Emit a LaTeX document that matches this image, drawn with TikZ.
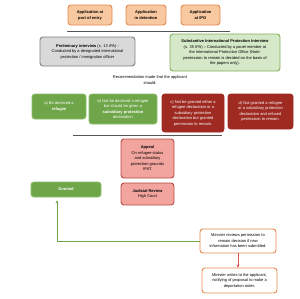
\documentclass[tikz,border=0pt]{standalone}
\usepackage{fontspec}
\setmainfont{Liberation Sans}
\usetikzlibrary{arrows.meta}
\definecolor{orfill}{HTML}{F8C8A0}
\definecolor{ordraw}{HTML}{E58A4E}
\definecolor{grfill}{HTML}{D9D9D9}
\definecolor{grdraw}{HTML}{7F7F7F}
\definecolor{lgfill}{HTML}{D5E8C8}
\definecolor{lgdraw}{HTML}{7FB05A}
\definecolor{dgfill}{HTML}{6FA64A}
\definecolor{dgdraw}{HTML}{8CBF68}
\definecolor{drfill}{HTML}{9E2A22}
\definecolor{pkfill}{HTML}{F2A59E}
\definecolor{pkdraw}{HTML}{B84A44}
\definecolor{redarr}{HTML}{E0524E}
\definecolor{linecol}{HTML}{555555}
\tikzset{
  box/.style={rounded corners=3pt, line width=0.9pt, align=center, inner sep=1pt,
    font=\fontsize{4}{5.5}\selectfont},
  appbox/.style={box, fill=orfill, draw=ordraw, font=\bfseries\fontsize{4}{6}\selectfont},
  greybox/.style={box, fill=grfill, draw=grdraw},
  lgbox/.style={box, fill=lgfill, draw=lgdraw},
  dgbox/.style={box, fill=dgfill, draw=dgdraw, text=white},
  drbox/.style={box, fill=drfill, draw=drfill, text=white},
  pkbox/.style={box, fill=pkfill, draw=pkdraw},
  minbox/.style={box, fill=white, draw=ordraw},
  sepline/.style={draw=linecol, line width=0.6pt}
}
\begin{document}
\begin{tikzpicture}[x=1pt, y=-1pt]
\useasboundingbox (0,0) rectangle (300,298);
\node[appbox, minimum width=44pt, minimum height=20pt] (app1) at (90,15) {Application at\\port of entry};
\node[appbox, minimum width=40pt, minimum height=20pt] (app2) at (146,15) {Application\\in detention};
\node[appbox, minimum width=39pt, minimum height=20pt] (app3) at (200.5,15) {Application\\at IPO};
\coordinate (l1a) at (67,31);
\coordinate (l1b) at (230,31);
\draw[sepline] (l1a) -- (l1b);
\node[greybox, minimum width=95pt, minimum height=29pt] (prelim) at (87.5,51.5)
  {\textbf{Preliminary interview} (s. 13 IPA) -\\Conducted by a designated international\\protection / immigration officer};
\node[lgbox, minimum width=110pt, minimum height=37pt] (subst) at (225,52.5)
  {\textbf{Substantive International Protection Interview}\\(s. 35 IPA) -- Conducted by a panel member at\\the International Protection Office (Note:\\permission to remain is decided on the basis of\\the papers only).};
\node[align=center, inner sep=0pt, font=\fontsize{4}{5.2}\selectfont] (rec) at (150,80)
  {Recommendation made that the applicant\\should:};
\node[dgbox, minimum width=54pt, minimum height=25pt] (a) at (59,106.5) {a) Be declared a\\\textbf{refugee}};
\node[dgbox, minimum width=68pt, minimum height=30pt] (b) at (123,109)
  {b) Not be declared a refugee\\but should be given a\\\textbf{subsidiary protection}\\declaration};
\node[drbox, minimum width=62pt, minimum height=38pt] (c) at (193,113)
  {c) Not be granted either a\\refugee declaration or a\\subsidiary protection\\declaration but granted\\permission to remain.};
\node[drbox, minimum width=65pt, minimum height=35pt] (d) at (260.5,111.5)
  {d) Not granted a refugee\\or a subsidiary protection\\declaration and refused\\permission to remain.};
\coordinate (l2a) at (73,135);
\coordinate (l2b) at (222,135);
\draw[sepline] (l2a) -- (l2b);
\node[pkbox, minimum width=53pt, minimum height=39pt] (appeal) at (147.5,158.5)
  {\textbf{Appeal}\\On refugee status\\and subsidiary\\protection grounds\\IPAT};
\node[dgbox, minimum width=70pt, minimum height=15pt, font=\bfseries\fontsize{4}{5.5}\selectfont] (granted) at (66,189.5) {Granted};
\node[pkbox, minimum width=53pt, minimum height=22pt] (jr) at (147.5,194) {\textbf{Judicial Review}\\High Court};
\node[minbox, minimum width=76pt, minimum height=24pt] (minrev) at (238,241)
  {Minister reviews permission to\\remain decision if new\\information has been submitted.};
\node[minbox, minimum width=75pt, minimum height=25pt] (minwrite) at (239.5,280.5)
  {Minister writes to the applicant,\\notifying of proposal to make a\\deportation order.};
\draw[-{Stealth[length=3pt,width=3pt,fill=dgfill]}, draw=dgfill, line width=0.8pt]
  (minrev.west) -| ([xshift=-9pt,yshift=-3pt]granted.south);
\draw[-{Stealth[length=3pt,width=3pt]}, draw=redarr, line width=0.8pt]
  (minrev.south) -- (minrev.south |- minwrite.north);
\end{tikzpicture}
\end{document}
